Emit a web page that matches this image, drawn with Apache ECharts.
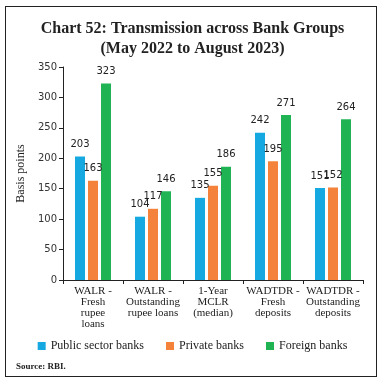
<!DOCTYPE html>
<html><head><meta charset="utf-8">
<script src="https://cdn.jsdelivr.net/npm/echarts@6/dist/echarts.min.js"></script>
<style>html,body{margin:0;padding:0;background:#fff}#c{width:385px;height:385px}
#frame{position:absolute;left:5px;top:6px;width:372px;height:371px;border:1.5px solid #222;box-sizing:border-box;pointer-events:none}</style>
</head><body><div id="c"></div><div id="frame"></div>
<script>
const categories = ["WALR -\nFresh\nrupee\nloans", "WALR -\nOutstanding\nrupee loans", "1-Year\nMCLR\n(median)", "WADTDR -\nFresh\ndeposits", "WADTDR -\nOutstanding\ndeposits"];
const publicSector = [203, 104, 135, 242, 151];
const privateBanks = [163, 117, 155, 195, 152];
const foreignBanks = [323, 146, 186, 271, 264];
const seriesNames = ["Public sector banks", "Private banks", "Foreign banks"];
const colors = ["#16a9e1", "#f4823a", "#1fb353"];

const chart = echarts.init(document.getElementById('c'));
const serif = "'Liberation Serif', 'DejaVu Serif', serif";
const sans = "'DejaVu Sans', Verdana, sans-serif";
function mk(name, data, i) {
  return {
    name, type: 'bar', data, barWidth: 10, barGap: '30%',
    itemStyle: { color: colors[i] },
    label: { show: true, position: 'top', distance: 7, fontFamily: sans, fontSize: 10, color: '#222' }
  };
}
chart.setOption({
  animation: false,
  title: {
    text: 'Chart 52: Transmission across Bank Groups\n(May 2022 to August 2023)',
    left: 'center', top: 14,
    textStyle: { fontFamily: serif, fontWeight: 'bold', fontSize: 16, lineHeight: 20, color: '#222' }
  },
  legend: {
    data: seriesNames, bottom: 28, left: 'center', itemWidth: 8, itemHeight: 8, itemGap: 22,
    icon: 'rect',
    textStyle: { fontFamily: serif, fontSize: 12, color: '#222' }
  },
  graphic: [{
    type: 'text', left: 16, top: 362,
    style: { text: 'Source: RBI.', fontFamily: serif, fontSize: 9, fontWeight: 'bold', fill: '#222' }
  }],
  grid: { left: 63, right: 22, top: 67, bottom: 105 },
  xAxis: {
    type: 'category', data: categories,
    axisLine: { lineStyle: { color: '#222', width: 1 } },
    axisTick: { show: true, lineStyle: { color: '#222' }, length: 4 },
    axisLabel: { fontFamily: serif, fontSize: 11, lineHeight: 11, color: '#222', interval: 0, margin: 6 }
  },
  yAxis: {
    type: 'value', min: 0, max: 350, interval: 50,
    name: 'Basis points', nameLocation: 'middle', nameGap: 35,
    nameTextStyle: { fontFamily: serif, fontSize: 12, color: '#222' },
    axisLine: { show: true, lineStyle: { color: '#222' } },
    axisTick: { show: true, lineStyle: { color: '#222' }, length: 4 },
    splitLine: { show: false },
    axisLabel: { fontFamily: sans, fontSize: 10, color: '#333', margin: 6 }
  },
  series: [mk(seriesNames[0], publicSector, 0), mk(seriesNames[1], privateBanks, 1), mk(seriesNames[2], foreignBanks, 2)]
});
</script></body></html>
